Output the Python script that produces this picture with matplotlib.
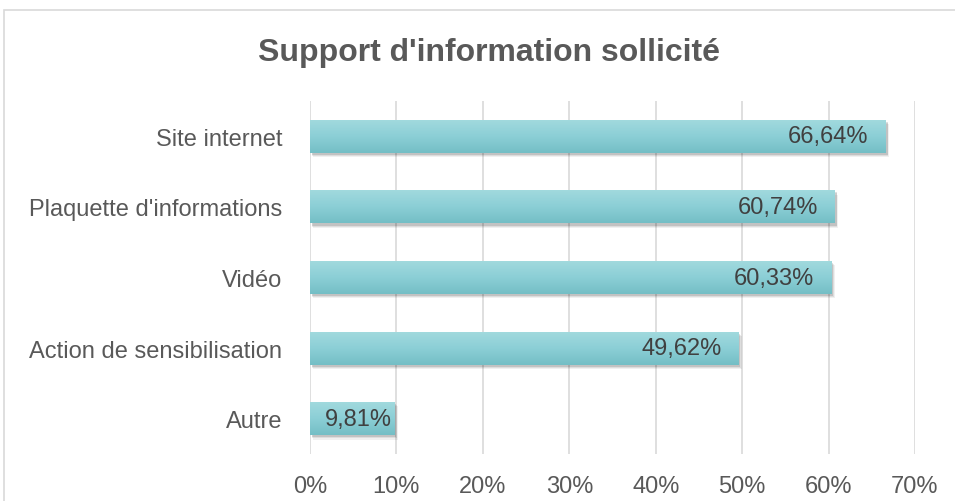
import numpy as np
import matplotlib.pyplot as plt
from matplotlib.patches import Rectangle
from matplotlib.ticker import FuncFormatter
from matplotlib.colors import LinearSegmentedColormap

# Data
categories = ['Site internet', "Plaquette d'informations", 'Vidéo',
              'Action de sensibilisation', 'Autre']
values = [66.64, 60.74, 60.33, 49.62, 9.81]
labels = ['66,64%', '60,74%', '60,33%', '49,62%', '9,81%']
xticks = [0, 10, 20, 30, 40, 50, 60, 70]

plt.rcParams['font.family'] = ['Liberation Sans', 'DejaVu Sans']

fig = plt.figure(figsize=(9.55, 5.02), dpi=100)
ax = fig.add_axes([310/955, 1-455/502, 605/955, 353/502])

# outer chart border (cut by the image edge on right/bottom)
fig.patches.append(Rectangle((4/955, -0.1), 1.2, 1 - 11/502 + 0.1,
                             transform=fig.transFigure, fill=False,
                             edgecolor='#d9d9d9', linewidth=1.2))

y = np.arange(len(categories))
h = 0.47

# soft shadow
for k, a in [(0.06, 0.06), (0.045, 0.08), (0.03, 0.12)]:
    ax.barh(y + k, values, height=h, left=k * 6, color='#000000',
            alpha=a, zorder=2, linewidth=0)
bars = ax.barh(y, values, height=h, color='#8fd0d6', zorder=3)

# vertical gradient on each bar
grad = np.linspace(0, 1, 100).reshape(-1, 1)
cmap = LinearSegmentedColormap.from_list('teal', ['#a2dade', '#8ccfd6', '#74bec5'])
for b in bars:
    x0, y0 = b.get_x(), b.get_y()
    w, hh = b.get_width(), b.get_height()
    im = ax.imshow(grad, cmap=cmap, aspect='auto', zorder=4,
                   extent=[x0, x0 + w, y0 + hh, y0], origin='upper')
    im.set_clip_path(b)

# labels inside the bar end (less padding when the bar is short)
for yi, v, lab in zip(y, values, labels):
    off = 2.0 if v > 15 else 0.35
    ax.text(v - off, yi, lab, ha='right', va='center', fontsize=17,
            color='#404040', zorder=5)

ax.set_xlim(0, 70)
ax.set_ylim(len(categories) - 0.5, -0.5)
ax.set_xticks(xticks)
ax.xaxis.set_major_formatter(FuncFormatter(lambda v, p: f'{v:.0f}%'))
ax.set_yticks(y)
ax.set_yticklabels(categories)
ax.tick_params(axis='both', length=0, labelsize=17, labelcolor='#595959')
ax.tick_params(axis='x', pad=15)
ax.tick_params(axis='y', pad=20)
ax.grid(axis='x', color='#d9d9d9', linewidth=1.2, zorder=0)
ax.set_axisbelow(True)
for s in ax.spines.values():
    s.set_visible(False)

fig.text(489/955, 1 - 53/502, "Support d'information sollicité",
         ha='center', va='center', fontsize=23, fontweight='bold',
         color='#595959')

fig.savefig('out.png', dpi=100)
